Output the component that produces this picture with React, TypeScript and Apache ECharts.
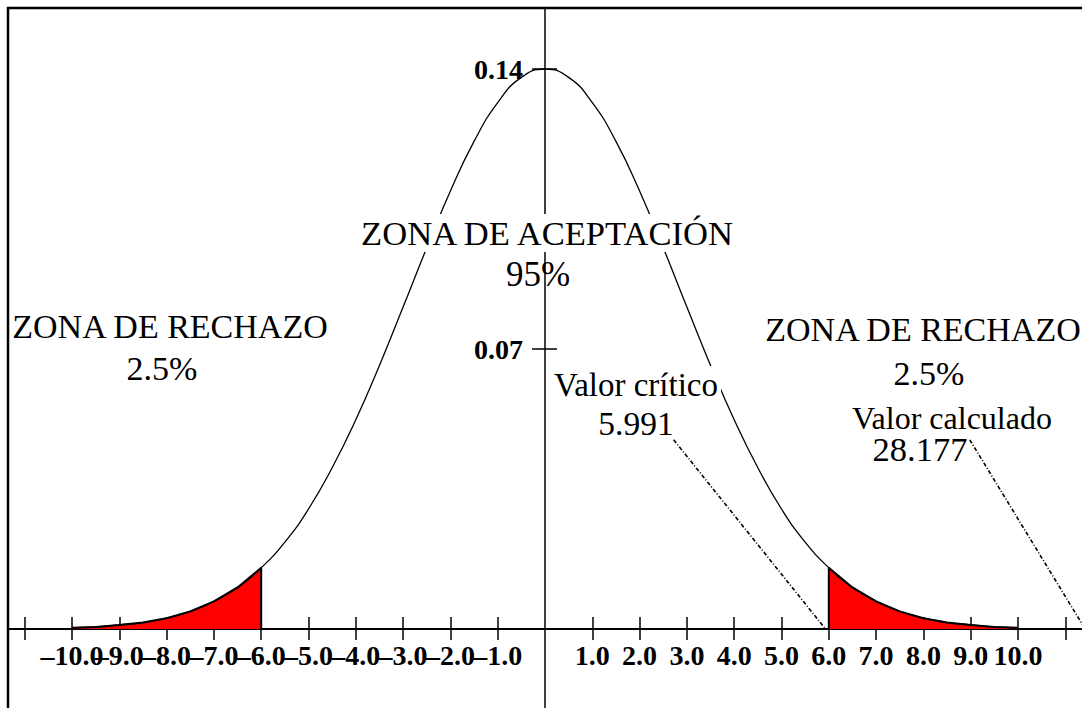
import React, { useEffect, useRef } from "react";
import * as echarts from "echarts";

// Curve (x in axis units, y density)
const curveX = [
  -10, -9.5, -9, -8.5, -8, -7.5, -7, -6.5, -6, -5.5, -5, -4.5, -4, -3.5, -3, -2.5, -2, -1.5, -1, -0.5,
  0, 0.5, 1, 1.5, 2, 2.5, 3, 3.5, 4, 4.5, 5, 5.5, 6, 6.5, 7, 7.5, 8, 8.5, 9, 9.5, 10,
];
const curveY = [
  0.0003, 0.0005, 0.001, 0.0016, 0.0027, 0.0044, 0.0069, 0.0104, 0.0153, 0.0217, 0.03, 0.0403, 0.0523,
  0.0659, 0.0805, 0.0953, 0.1095, 0.1219, 0.1316, 0.1379, 0.14, 0.1379, 0.1316, 0.1219, 0.1095, 0.0953,
  0.0805, 0.0659, 0.0523, 0.0403, 0.03, 0.0217, 0.0153, 0.0104, 0.0069, 0.0044, 0.0027, 0.0016, 0.001,
  0.0005, 0.0003,
];
const leftCut = -6;
const rightCut = 6;

const xTickValues = [-11, -10, -9, -8, -7, -6, -5, -4, -3, -2, -1, 1, 2, 3, 4, 5, 6, 7, 8, 9, 10, 11];
// labels alternate over two overlaid axes so that touching labels all stay visible
const xLabelValuesEven = [-10, -8, -6, -4, -2, 2, 4, 6, 8, 10];
const xLabelValuesOdd = [-9, -7, -5, -3, -1, 1, 3, 5, 7, 9];
const yTickValues = [0.07, 0.14];

const criticalLeaderX = [2.72, 5.93];
const criticalLeaderY = [0.0473, 0];
const calculatedLeaderX = [8.98, 11.42];
const calculatedLeaderY = [0.0473, 0];

const textAcceptance = "ZONA DE ACEPTACIÓN";
const textAcceptancePct = "95%";
const textReject = "ZONA DE RECHAZO";
const textRejectPct = "2.5%";
const textCritical = "Valor crítico";
const textCriticalValue = "5.991";
const textCalculated = "Valor calculado";
const textCalculatedValue = "28.177";

const SERIF = "'Liberation Serif', 'Times New Roman', serif";

export default function App() {
  const ref = useRef<HTMLDivElement>(null);

  useEffect(() => {
    if (!ref.current) return;
    const chart = echarts.init(ref.current, null, { renderer: "svg" });

    const curve = curveX.map((x, i) => [x, curveY[i]]);
    const leftTail = curve.filter((p) => p[0] <= leftCut).concat([[leftCut, 0]]);
    const rightTail = [[rightCut, 0]].concat(curve.filter((p) => p[0] >= rightCut));
    const critLine = criticalLeaderX.map((x, i) => [x, criticalLeaderY[i]]);
    const calcLine = calculatedLeaderX.map((x, i) => [x, calculatedLeaderY[i]]);

    const xFmt = (v: number) => (v < 0 ? "\u2013" + Math.abs(v).toFixed(1) : v.toFixed(1));

    const xMin = -11.353;
    const xMax = 11.353;
    const yMax = 0.15525;
    const yMinFull = -0.01975;

    const txt = (text: string, x: number, y: number, size: number, bg = false) => ({
      type: "text",
      x,
      y,
      z: 100,
      silent: true,
      style: {
        text,
        font: `${size}px ${SERIF}`,
        fill: "#000",
        align: "center",
        verticalAlign: "middle",
        textAlign: "center",
        textVerticalAlign: "middle",
        lineHeight: 28,
        ...(bg ? { backgroundColor: "#fff", padding: [5, 3] } : {}),
      },
    });

    const tickStyle = { color: "#000", width: 1.5 };
    const xLabelStyle = {
      show: true,
      formatter: xFmt,
      hideOverlap: false,
      showMinLabel: true,
      showMaxLabel: true,
      margin: 12,
      fontFamily: SERIF,
      fontWeight: "bold",
      fontSize: 28,
      color: "#000",
    };

    chart.setOption({
      animation: false,
      backgroundColor: "#fff",
      grid: [
        // main plotting grid: bottom edge is y = 0
        { left: 8, right: 0, top: 8, bottom: 79, containLabel: false, outerBoundsMode: "none" },
        // grid whose left edge is x = 0, carrying the vertical axis
        { left: 545, right: 0, top: 8, bottom: 0, containLabel: false, outerBoundsMode: "none" },
      ],
      xAxis: [
        {
          type: "value",
          gridIndex: 0,
          position: "bottom",
          min: xMin,
          max: xMax,
          splitLine: { show: false },
          axisLine: { onZero: false, lineStyle: { color: "#000", width: 2 } },
          axisTick: { show: true, length: 11, inside: false, customValues: xTickValues, lineStyle: tickStyle },
          axisLabel: { ...xLabelStyle, customValues: xLabelValuesEven },
        },
        {
          type: "value",
          gridIndex: 0,
          position: "bottom",
          min: xMin,
          max: xMax,
          splitLine: { show: false },
          axisLine: { show: false, onZero: false },
          axisTick: { show: true, length: 12, inside: true, customValues: xTickValues, lineStyle: tickStyle },
          axisLabel: { ...xLabelStyle, customValues: xLabelValuesOdd },
        },
        {
          type: "value",
          gridIndex: 1,
          min: 0,
          max: 1,
          show: false,
          axisLine: { show: false, onZero: false },
          splitLine: { show: false },
        },
      ],
      yAxis: [
        {
          type: "value",
          gridIndex: 0,
          min: 0,
          max: yMax,
          show: false,
          axisLine: { show: false, onZero: false },
          splitLine: { show: false },
        },
        {
          type: "value",
          gridIndex: 1,
          position: "left",
          min: yMinFull,
          max: yMax,
          splitLine: { show: false },
          axisLine: { show: true, onZero: false, lineStyle: { color: "#000", width: 1.5 } },
          axisTick: { show: true, length: 13, inside: false, customValues: yTickValues, lineStyle: tickStyle },
          axisLabel: {
            show: true,
            customValues: yTickValues,
            formatter: (v: number) => v.toFixed(2),
            hideOverlap: false,
            margin: 22,
            fontFamily: SERIF,
            fontWeight: "bold",
            fontSize: 28,
            color: "#000",
          },
        },
        {
          type: "value",
          gridIndex: 1,
          position: "left",
          min: yMinFull,
          max: yMax,
          splitLine: { show: false },
          axisLine: { show: false, onZero: false },
          axisTick: { show: true, length: 12, inside: true, customValues: yTickValues, lineStyle: tickStyle },
          axisLabel: { show: false },
        },
      ],
      series: [
        {
          type: "line",
          xAxisIndex: 0,
          yAxisIndex: 0,
          data: leftTail,
          showSymbol: false,
          silent: true,
          z: 2,
          lineStyle: { color: "#000", width: 2 },
          areaStyle: { color: "#ff0000", opacity: 1 },
        },
        {
          type: "line",
          xAxisIndex: 0,
          yAxisIndex: 0,
          data: rightTail,
          showSymbol: false,
          silent: true,
          z: 2,
          lineStyle: { color: "#000", width: 2 },
          areaStyle: { color: "#ff0000", opacity: 1 },
        },
        {
          type: "line",
          xAxisIndex: 0,
          yAxisIndex: 0,
          data: curve,
          smooth: true,
          showSymbol: false,
          silent: true,
          z: 3,
          lineStyle: { color: "#000", width: 1.3 },
        },
        {
          type: "line",
          xAxisIndex: 0,
          yAxisIndex: 0,
          data: critLine,
          showSymbol: false,
          silent: true,
          z: 3,
          lineStyle: { color: "#000", width: 1.6, type: [4, 2, 1, 2] },
        },
        {
          type: "line",
          xAxisIndex: 0,
          yAxisIndex: 0,
          data: calcLine,
          showSymbol: false,
          silent: true,
          z: 3,
          lineStyle: { color: "#000", width: 1.6, type: [4, 2, 1, 2] },
        },
      ],
      graphic: [
        {
          type: "line",
          z: 100,
          silent: true,
          shape: { x1: 7, y1: 8, x2: 1082, y2: 8 },
          style: { stroke: "#000", lineWidth: 2.5 },
        },
        {
          type: "line",
          z: 100,
          silent: true,
          shape: { x1: 8, y1: 7, x2: 8, y2: 708 },
          style: { stroke: "#000", lineWidth: 2.5 },
        },
        txt(textAcceptance, 547, 233, 34.6, true),
        txt(textAcceptancePct, 538, 274, 35),
        txt(textReject, 170, 326, 34),
        txt(textRejectPct, 162, 368, 34),
        txt(textReject, 923, 329, 34),
        txt(textRejectPct, 929, 373, 34),
        txt(textCritical, 636, 385, 33, true),
        txt(textCriticalValue, 636, 423, 33.5),
        txt(textCalculated, 952, 418, 32),
        txt(textCalculatedValue, 920, 449, 34.5),
      ],
    });

    return () => chart.dispose();
  }, []);

  return (
    <div
      ref={ref}
      style={{ position: "fixed", left: 0, top: 0, width: 1082, height: 708, background: "#fff" }}
    />
  );
}
